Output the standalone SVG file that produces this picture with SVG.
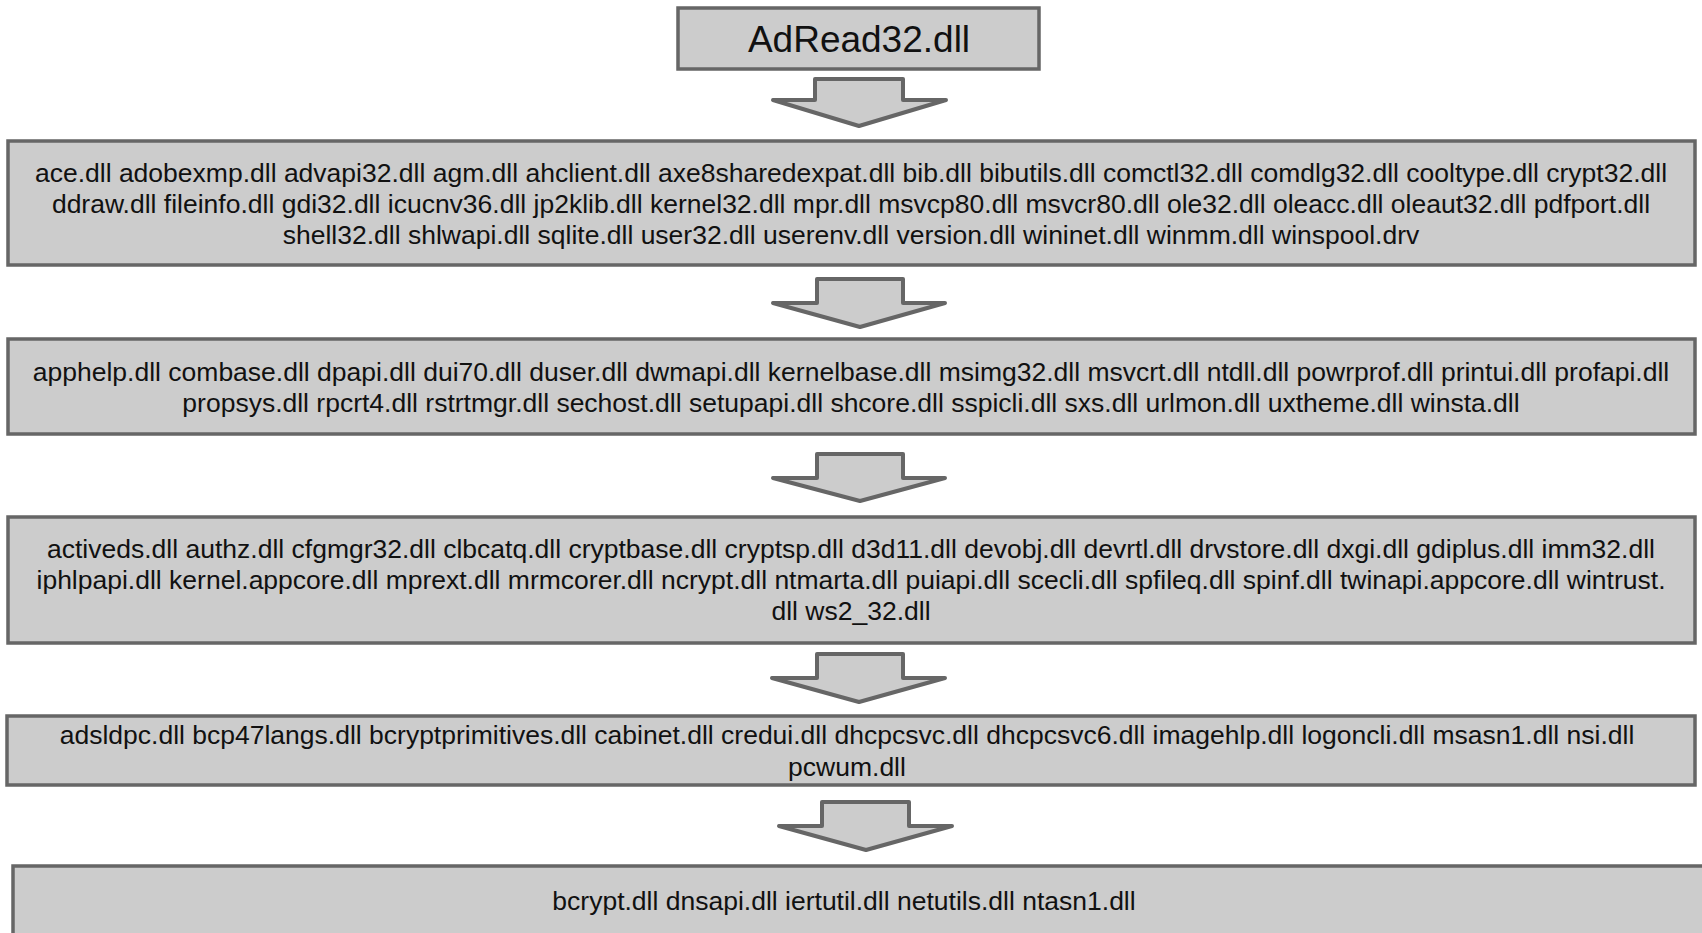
<svg xmlns="http://www.w3.org/2000/svg" width="1702" height="933" viewBox="0 0 1702 933">
<style>
.box{fill:#cccccc;stroke:#666666;stroke-width:3.5}
.arr{fill:#cccccc;stroke:#666666;stroke-width:4;stroke-linejoin:round}
text{font-family:"Liberation Sans",Arial,sans-serif;fill:#111111;text-anchor:middle}
.t{font-size:26.5px}
.big{font-size:37px}
</style>
<rect width="1702" height="933" fill="#ffffff"/>
<g id="connectors">
<polygon class="arr" points="815,79 903,79 903,100 946,100 859,126 773,100 815,100"/>
<polygon class="arr" points="817,279 903,279 903,303 945,303 860,327 773,303 817,303"/>
<polygon class="arr" points="817,454 903,454 903,478 945,478 860,501 773,478 817,478"/>
<polygon class="arr" points="817,654 903,654 903,678 945,678 859,702 772,678 817,678"/>
<polygon class="arr" points="822,802 909,802 909,826 952,826 866,850 779,826 822,826"/>
</g>
<g id="n0">
<rect class="box" x="678" y="8" width="361" height="61"/>
<text class="big" x="859" y="52">AdRead32.dll</text>
</g>
<g id="n1">
<rect class="box" x="8" y="141" width="1687" height="124"/>
<text class="t" x="851" y="182">ace.dll adobexmp.dll advapi32.dll agm.dll ahclient.dll axe8sharedexpat.dll bib.dll bibutils.dll comctl32.dll comdlg32.dll cooltype.dll crypt32.dll</text>
<text class="t" x="851" y="213">ddraw.dll fileinfo.dll gdi32.dll icucnv36.dll jp2klib.dll kernel32.dll mpr.dll msvcp80.dll msvcr80.dll ole32.dll oleacc.dll oleaut32.dll pdfport.dll</text>
<text class="t" x="851" y="244">shell32.dll shlwapi.dll sqlite.dll user32.dll userenv.dll version.dll wininet.dll winmm.dll winspool.drv</text>
</g>
<g id="n2">
<rect class="box" x="8" y="339" width="1687" height="95"/>
<text class="t" x="851" y="381">apphelp.dll combase.dll dpapi.dll dui70.dll duser.dll dwmapi.dll kernelbase.dll msimg32.dll msvcrt.dll ntdll.dll powrprof.dll printui.dll profapi.dll</text>
<text class="t" x="851" y="412">propsys.dll rpcrt4.dll rstrtmgr.dll sechost.dll setupapi.dll shcore.dll sspicli.dll sxs.dll urlmon.dll uxtheme.dll winsta.dll</text>
</g>
<g id="n3">
<rect class="box" x="8" y="517" width="1687" height="126"/>
<text class="t" x="851" y="558">activeds.dll authz.dll cfgmgr32.dll clbcatq.dll cryptbase.dll cryptsp.dll d3d11.dll devobj.dll devrtl.dll drvstore.dll dxgi.dll gdiplus.dll imm32.dll</text>
<text class="t" x="851" y="589">iphlpapi.dll kernel.appcore.dll mprext.dll mrmcorer.dll ncrypt.dll ntmarta.dll puiapi.dll scecli.dll spfileq.dll spinf.dll twinapi.appcore.dll wintrust.</text>
<text class="t" x="851" y="620">dll ws2_32.dll</text>
</g>
<g id="n4">
<rect class="box" x="7" y="716" width="1688" height="69"/>
<text class="t" x="847" y="744">adsldpc.dll bcp47langs.dll bcryptprimitives.dll cabinet.dll credui.dll dhcpcsvc.dll dhcpcsvc6.dll imagehlp.dll logoncli.dll msasn1.dll nsi.dll</text>
<text class="t" x="847" y="776">pcwum.dll</text>
</g>
<g id="n5">
<rect class="box" x="13" y="866" width="1694" height="80"/>
<text class="t" x="844" y="910">bcrypt.dll dnsapi.dll iertutil.dll netutils.dll ntasn1.dll</text>
</g>
</svg>
